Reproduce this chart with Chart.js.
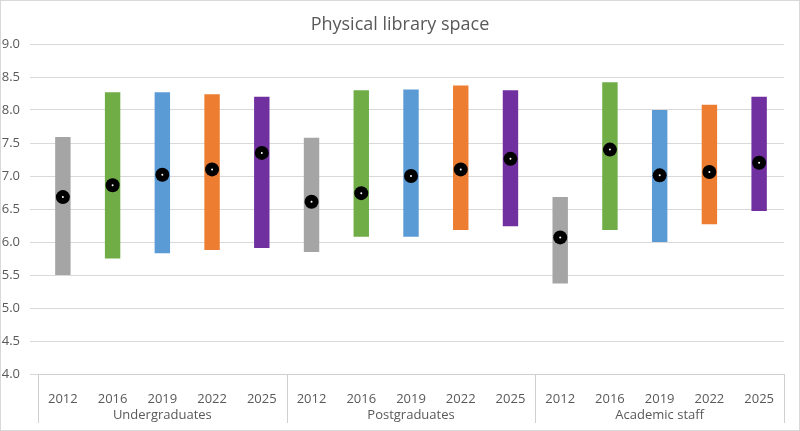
<!DOCTYPE html>
<html>
<head>
<meta charset="utf-8">
<script src="https://cdn.jsdelivr.net/npm/chart.js@4"></script>
<style>
  html, body { margin: 0; padding: 0; background: #fff; }
  #wrap { width: 800px; height: 431px; position: relative; }
</style>
</head>
<body>
<div id="wrap"><canvas id="c"></canvas></div>
<script>
'use strict';

// ── DATA ──
const groups = ['Undergraduates', 'Postgraduates', 'Academic staff'];
const years  = ['2012', '2016', '2019', '2022', '2025'];
const lows   = [5.50, 5.75, 5.83, 5.88, 5.91,  5.85, 6.08, 6.08, 6.18, 6.24,  5.37, 6.18, 6.00, 6.27, 6.47];
const highs  = [7.59, 8.27, 8.27, 8.24, 8.20,  7.58, 8.30, 8.31, 8.37, 8.30,  6.68, 8.42, 8.00, 8.08, 8.20];
const means  = [6.68, 6.86, 7.02, 7.10, 7.35,  6.61, 6.74, 7.00, 7.10, 7.26,  6.07, 7.40, 7.01, 7.06, 7.20];
const yearColors = ['#a5a5a5', '#70ad47', '#5b9bd5', '#ed7d31', '#7030a0'];

const labels = [];
const colors = [];
groups.forEach(() => years.forEach((y, i) => { labels.push(y); colors.push(yearColors[i]); }));
const ranges = lows.map((lo, i) => [lo, highs[i]]);

// ── DECOR PLUGIN: title, group labels, separators ──
const decor = {
  id: 'decor',
  afterDraw(chart) {
    const ctx = chart.ctx;
    const area = chart.chartArea;
    const x = chart.scales.x;
    ctx.save();
    ctx.strokeStyle = '#d9d9d9';
    ctx.lineWidth = 1;
    ctx.strokeRect(0.5, 0.5, chart.width - 1, chart.height - 1);
    ctx.fillStyle = '#595959';
    ctx.font = '18px "Open Sans", "Liberation Sans", sans-serif';
    ctx.textAlign = 'center';
    ctx.textBaseline = 'middle';
    ctx.fillText('Physical library space', chart.width / 2, 25);

    const step = (area.right - area.left) / labels.length;
    ctx.strokeStyle = '#d0d0d0';
    for (let g = 0; g <= groups.length; g++) {
      const px = Math.round(area.left + g * years.length * step) + 0.5;
      ctx.beginPath();
      ctx.moveTo(px, area.bottom);
      ctx.lineTo(px, area.bottom + 49);
      ctx.stroke();
    }
    ctx.font = '13px "Open Sans", "Liberation Sans", sans-serif';
    groups.forEach((g, i) => {
      const cx = area.left + (i * years.length + years.length / 2) * step;
      ctx.fillText(g, cx, area.bottom + 41);
    });
    ctx.restore();
  }
};

new Chart(document.getElementById('c'), {
  data: {
    labels,
    datasets: [
      { type: 'line', data: means, showLine: false, pointRadius: 1, pointBackgroundColor: '#fff',
        pointBorderWidth: 0, pointHoverRadius: 1, order: 0 },
      { type: 'line', data: means, showLine: false, pointRadius: 7, pointBackgroundColor: '#000',
        pointBorderColor: '#000', pointBorderWidth: 0, order: 1 },
      { type: 'bar', data: ranges, backgroundColor: colors, barPercentage: 0.31,
        categoryPercentage: 1, order: 2 },
    ]
  },
  options: {
    responsive: true,
    maintainAspectRatio: false,
    animation: false,
    layout: { padding: { top: 44, right: 16, bottom: 7, left: 0 } },
    plugins: { legend: { display: false }, tooltip: { enabled: false } },
    scales: {
      x: {
        grid: { display: false },
        border: { color: '#d0d0d0' },
        ticks: { color: '#595959', padding: 9, maxRotation: 0, autoSkip: false,
                 font: { family: 'Open Sans', size: 13 } },
        afterFit(s) { s.height = 50; }
      },
      y: {
        min: 4, max: 9,
        grid: { color: '#d9d9d9' },
        border: { display: false },
        ticks: { stepSize: 0.5, color: '#595959', padding: 10,
                 font: { family: 'Open Sans', size: 13 } },
        afterFit(s) { s.width = 38; }
      }
    }
  },
  plugins: [decor]
});
</script>
</body>
</html>
